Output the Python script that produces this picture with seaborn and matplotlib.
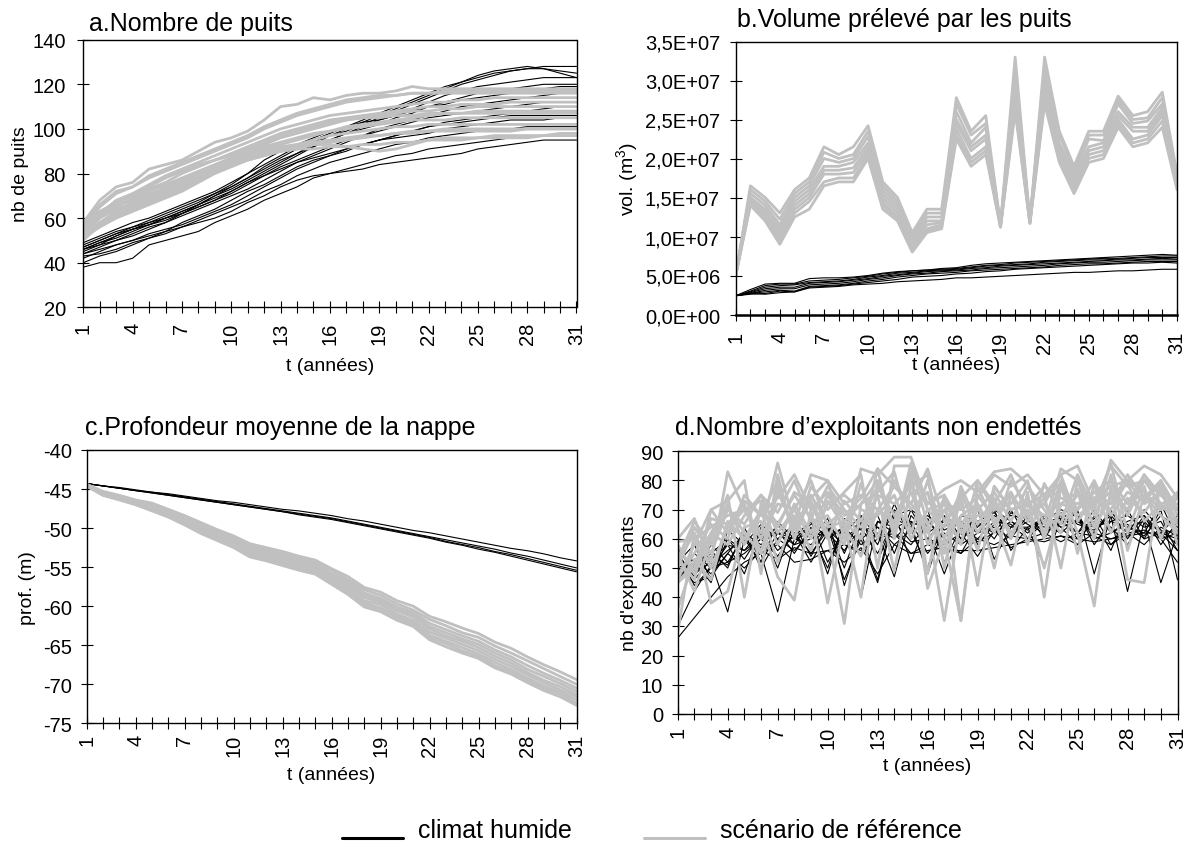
import numpy as np
import pandas as pd
import matplotlib
matplotlib.use("Agg")
import matplotlib.pyplot as plt
import seaborn as sns
from matplotlib.ticker import FuncFormatter
from matplotlib.lines import Line2D

# ---------------------------------------------------------------- data
T = list(range(1, 32))
TICK_LABELS = [str(t) if (t - 1) % 3 == 0 else "" for t in T]

# a. Nombre de puits
A_HUMIDE = [
    [47, 50, 53, 56, 58, 61, 64, 67, 71, 75, 80, 84, 88, 92, 95, 98, 101, 104, 107, 110, 113, 116, 119, 121, 123, 125, 126, 127, 128, 128, 128],
    [45, 48, 52, 55, 57, 60, 63, 66, 70, 74, 78, 83, 87, 91, 94, 97, 99, 102, 105, 108, 111, 114, 117, 120, 122, 124, 126, 127, 127, 126, 125],
    [46, 49, 51, 54, 57, 59, 62, 65, 68, 72, 76, 80, 84, 88, 92, 95, 98, 101, 104, 106, 109, 112, 115, 117, 119, 120, 121, 122, 123, 123, 123],
    [48, 51, 54, 56, 59, 62, 65, 68, 71, 74, 78, 82, 86, 89, 92, 95, 98, 100, 102, 105, 107, 110, 112, 114, 116, 117, 118, 119, 120, 120, 120],
    [44, 47, 50, 53, 56, 58, 61, 64, 67, 70, 73, 77, 81, 85, 88, 91, 94, 97, 100, 102, 104, 106, 108, 110, 111, 112, 113, 114, 115, 116, 117],
    [47, 50, 53, 55, 58, 60, 62, 65, 68, 71, 75, 79, 83, 86, 89, 92, 95, 97, 99, 101, 103, 105, 106, 107, 108, 109, 110, 111, 112, 112, 112],
    [42, 45, 48, 50, 53, 55, 57, 60, 63, 66, 70, 74, 78, 82, 85, 88, 90, 93, 95, 97, 99, 101, 102, 103, 104, 105, 106, 106, 106, 106, 106],
    [40, 43, 45, 48, 51, 53, 56, 59, 62, 65, 68, 72, 75, 79, 82, 85, 87, 89, 91, 93, 94, 96, 97, 98, 99, 100, 100, 101, 101, 101, 101],
    [38, 40, 40, 42, 48, 50, 52, 54, 58, 61, 64, 68, 71, 74, 78, 80, 82, 84, 86, 88, 89, 91, 92, 93, 94, 95, 96, 96, 97, 97, 97],
    [44, 46, 48, 50, 52, 54, 56, 58, 60, 63, 67, 70, 74, 77, 79, 80, 81, 82, 84, 85, 86, 87, 88, 89, 91, 92, 93, 94, 95, 95, 95],
    [46, 48, 50, 52, 55, 58, 62, 66, 70, 73, 77, 81, 85, 89, 93, 97, 100, 103, 106, 109, 112, 115, 118, 121, 124, 126, 127, 128, 127, 125, 123],
    [49, 52, 55, 58, 60, 63, 66, 69, 72, 76, 80, 86, 90, 93, 96, 99, 101, 103, 104, 106, 108, 110, 111, 113, 114, 115, 116, 117, 118, 119, 119],
    [43, 44, 46, 49, 51, 54, 58, 61, 64, 68, 72, 75, 79, 83, 86, 88, 91, 93, 95, 97, 99, 101, 103, 104, 105, 106, 107, 108, 109, 110, 110],
    [46, 49, 52, 55, 57, 60, 63, 66, 69, 72, 76, 79, 82, 85, 87, 89, 91, 93, 95, 96, 97, 98, 100, 101, 102, 103, 104, 104, 104, 105, 105],
]
A_REFERENCE = [
    [58, 68, 74, 76, 82, 84, 86, 90, 94, 96, 99, 104, 110, 111, 114, 113, 115, 116, 116, 117, 119, 118, 118, 118, 118, 118, 118, 118, 118, 118, 118],
    [55, 65, 71, 74, 78, 81, 84, 87, 90, 93, 96, 100, 103, 106, 108, 110, 112, 113, 114, 115, 116, 116, 117, 117, 117, 117, 117, 117, 117, 117, 117],
    [54, 62, 68, 71, 75, 79, 82, 85, 88, 91, 94, 97, 100, 102, 104, 106, 107, 108, 109, 110, 111, 112, 112, 113, 113, 114, 114, 114, 114, 114, 114],
    [56, 63, 67, 70, 74, 78, 81, 84, 86, 89, 92, 95, 98, 100, 102, 104, 105, 106, 107, 108, 109, 110, 110, 111, 111, 111, 112, 112, 112, 112, 112],
    [52, 60, 65, 69, 72, 75, 78, 81, 84, 87, 90, 93, 96, 98, 100, 102, 104, 105, 106, 107, 108, 108, 109, 109, 110, 110, 110, 110, 110, 110, 110],
    [53, 61, 66, 68, 71, 73, 76, 79, 82, 85, 88, 91, 93, 95, 97, 99, 101, 102, 103, 104, 105, 106, 107, 107, 108, 108, 108, 108, 108, 108, 108],
    [51, 58, 63, 66, 69, 72, 75, 78, 81, 84, 87, 89, 91, 93, 95, 97, 98, 99, 100, 101, 101, 102, 102, 102, 102, 102, 102, 102, 102, 102, 102],
    [55, 62, 66, 68, 70, 73, 76, 79, 82, 84, 86, 88, 90, 91, 93, 94, 95, 96, 97, 98, 99, 99, 100, 100, 100, 100, 100, 100, 100, 100, 100],
    [50, 57, 61, 64, 67, 70, 73, 77, 81, 84, 87, 89, 90, 91, 91, 92, 92, 93, 93, 94, 94, 95, 95, 95, 96, 96, 96, 96, 97, 97, 97],
    [52, 58, 62, 65, 68, 71, 74, 78, 82, 85, 88, 90, 92, 93, 93, 93, 92, 91, 90, 91, 93, 95, 96, 96, 96, 97, 97, 97, 97, 98, 98],
    [57, 66, 72, 74, 79, 82, 85, 88, 91, 94, 97, 101, 104, 107, 109, 111, 113, 114, 115, 115, 116, 116, 116, 116, 116, 116, 116, 116, 116, 116, 116],
    [53, 61, 67, 70, 73, 76, 80, 83, 86, 88, 91, 94, 97, 99, 101, 103, 104, 105, 105, 106, 106, 107, 107, 107, 107, 107, 107, 107, 107, 107, 107],
    [54, 60, 64, 67, 70, 74, 77, 80, 83, 86, 89, 92, 94, 96, 98, 99, 100, 101, 102, 103, 104, 104, 104, 105, 105, 105, 105, 105, 105, 105, 105],
    [51, 56, 60, 63, 66, 69, 72, 76, 80, 83, 86, 88, 90, 92, 94, 95, 96, 97, 97, 98, 98, 99, 99, 99, 99, 99, 99, 100, 100, 100, 100],
]

# b. Volume prélevé par les puits (millions de m3)
B_HUMIDE = [
    [2.4, 3.2, 3.9, 4.0, 4.0, 4.6, 4.7, 4.7, 4.8, 5.0, 5.3, 5.5, 5.6, 5.7, 5.9, 6.0, 6.3, 6.5, 6.6, 6.7, 6.8, 6.9, 7.0, 7.1, 7.2, 7.3, 7.4, 7.5, 7.6, 7.7, 7.6],
    [2.4, 3.0, 3.7, 3.9, 3.9, 4.3, 4.4, 4.5, 4.7, 4.9, 5.2, 5.4, 5.6, 5.7, 5.8, 5.9, 6.1, 6.3, 6.4, 6.6, 6.7, 6.8, 6.9, 7.0, 7.1, 7.2, 7.2, 7.3, 7.4, 7.5, 7.5],
    [2.4, 2.9, 3.5, 3.7, 3.8, 4.1, 4.2, 4.3, 4.5, 4.8, 5.0, 5.3, 5.4, 5.6, 5.7, 5.8, 6.0, 6.2, 6.3, 6.4, 6.5, 6.7, 6.8, 6.9, 7.0, 7.0, 7.1, 7.2, 7.3, 7.3, 7.3],
    [2.4, 2.8, 3.3, 3.5, 3.5, 4.0, 4.1, 4.2, 4.4, 4.6, 4.9, 5.1, 5.3, 5.5, 5.6, 5.7, 5.9, 6.0, 6.2, 6.3, 6.4, 6.5, 6.6, 6.7, 6.8, 6.9, 7.0, 7.0, 7.1, 7.2, 7.1],
    [2.4, 2.7, 3.1, 3.3, 3.3, 3.8, 3.9, 4.0, 4.2, 4.5, 4.7, 5.0, 5.2, 5.3, 5.5, 5.6, 5.7, 5.9, 6.0, 6.1, 6.2, 6.3, 6.5, 6.6, 6.7, 6.7, 6.8, 6.9, 7.0, 7.0, 7.0],
    [2.4, 2.7, 2.9, 3.1, 3.0, 3.6, 3.7, 3.8, 4.0, 4.3, 4.5, 4.8, 5.0, 5.2, 5.3, 5.4, 5.6, 5.7, 5.8, 5.9, 6.0, 6.1, 6.3, 6.4, 6.5, 6.5, 6.6, 6.7, 6.8, 6.8, 6.8],
    [2.4, 2.6, 2.7, 3.0, 2.9, 3.5, 3.6, 3.7, 3.9, 4.1, 4.3, 4.5, 4.8, 4.9, 5.0, 5.2, 5.3, 5.5, 5.6, 5.8, 5.9, 6.0, 6.1, 6.2, 6.3, 6.4, 6.5, 6.6, 6.6, 6.7, 6.6],
    [2.4, 2.7, 2.6, 2.8, 2.9, 3.4, 3.5, 3.6, 3.8, 3.9, 4.0, 4.2, 4.3, 4.4, 4.5, 4.7, 4.7, 4.8, 4.9, 5.0, 5.1, 5.2, 5.3, 5.4, 5.4, 5.5, 5.6, 5.6, 5.7, 5.8, 5.8],
]
B_REFERENCE = [
    [5, 16.5, 15.0, 13.0, 16.0, 17.5, 21.5, 20.5, 21.5, 24.2, 17.0, 15.0, 10.5, 13.5, 13.5, 27.8, 23.5, 25.5, 11.5, 33.0, 12.0, 33.0, 23.5, 19.0, 23.5, 23.5, 28.0, 25.5, 26.0, 28.5, 18.0],
    [5, 16.0, 14.5, 12.2, 15.5, 17.0, 20.8, 20.0, 20.5, 23.5, 16.5, 14.5, 10.0, 13.0, 13.0, 27.0, 23.0, 24.5, 11.5, 31.5, 11.9, 32.0, 23.0, 18.5, 23.0, 23.0, 27.5, 25.0, 25.2, 27.8, 17.8],
    [5, 15.5, 14.0, 11.5, 15.0, 16.5, 20.0, 19.5, 20.0, 22.8, 16.0, 14.0, 9.5, 12.5, 12.5, 26.0, 22.0, 24.0, 11.4, 30.0, 11.9, 31.0, 22.0, 18.0, 22.5, 22.3, 27.0, 24.5, 24.8, 27.0, 17.5],
    [5, 15.0, 13.5, 11.0, 14.5, 16.0, 19.0, 19.0, 19.5, 22.0, 15.5, 13.5, 9.2, 12.0, 12.0, 25.0, 21.5, 23.0, 11.4, 29.0, 11.8, 30.0, 21.5, 17.5, 21.5, 22.0, 26.0, 24.0, 24.0, 26.5, 17.2],
    [5, 14.8, 13.2, 10.5, 14.0, 15.5, 18.5, 18.5, 18.8, 21.5, 15.0, 13.0, 9.0, 11.5, 11.8, 24.5, 21.0, 22.5, 11.3, 28.0, 11.8, 29.0, 21.0, 17.0, 21.0, 21.5, 25.5, 23.5, 23.5, 26.0, 17.0],
    [5, 14.5, 12.8, 10.0, 13.5, 15.0, 18.0, 18.0, 18.2, 21.0, 14.5, 12.5, 8.7, 11.0, 11.5, 23.8, 20.0, 21.5, 11.3, 27.5, 11.7, 28.5, 20.5, 16.5, 20.5, 21.0, 25.0, 22.5, 23.0, 25.5, 16.8],
    [5, 14.2, 12.4, 9.5, 13.0, 14.5, 17.0, 17.5, 17.5, 20.5, 14.0, 12.2, 8.4, 10.8, 11.2, 23.0, 19.5, 21.0, 11.2, 26.5, 11.7, 27.5, 20.0, 16.0, 20.0, 20.5, 24.5, 22.0, 22.5, 24.8, 16.5],
    [5, 14.0, 12.0, 9.0, 12.5, 13.5, 16.5, 17.0, 17.0, 20.0, 13.5, 12.0, 8.0, 10.5, 11.0, 22.5, 19.0, 20.5, 11.2, 26.0, 11.7, 27.0, 19.5, 15.5, 19.5, 20.0, 24.0, 21.5, 22.0, 24.0, 16.0],
]

# c. Profondeur moyenne de la nappe (m)
C_HUMIDE = [
    [-44.3, -44.6, -44.8, -45.1, -45.4, -45.6, -45.9, -46.2, -46.5, -46.7, -47.0, -47.3, -47.6, -47.8, -48.1, -48.4, -48.8, -49.1, -49.5, -49.9, -50.3, -50.6, -51.0, -51.4, -51.8, -52.2, -52.6, -52.9, -53.3, -53.8, -54.2],
    [-44.3, -44.6, -44.9, -45.2, -45.4, -45.7, -46.0, -46.3, -46.6, -46.9, -47.2, -47.5, -47.8, -48.1, -48.4, -48.7, -49.1, -49.5, -49.9, -50.3, -50.7, -51.1, -51.5, -51.9, -52.3, -52.7, -53.2, -53.6, -54.1, -54.6, -55.1],
    [-44.3, -44.6, -44.9, -45.2, -45.5, -45.8, -46.1, -46.4, -46.7, -47.0, -47.3, -47.6, -47.9, -48.2, -48.5, -48.8, -49.2, -49.6, -50.0, -50.4, -50.8, -51.2, -51.7, -52.1, -52.5, -53.0, -53.4, -53.9, -54.4, -54.9, -55.4],
    [-44.3, -44.6, -44.9, -45.2, -45.5, -45.8, -46.1, -46.4, -46.7, -47.0, -47.3, -47.6, -47.9, -48.3, -48.6, -48.9, -49.3, -49.7, -50.1, -50.5, -50.9, -51.3, -51.8, -52.2, -52.7, -53.1, -53.6, -54.1, -54.6, -55.1, -55.6],
]
C_REFERENCE = [
    [-44.4, -45.3, -45.8, -46.4, -46.8, -47.6, -48.4, -49.3, -50.2, -51.0, -52.0, -52.5, -53.0, -53.6, -54.1, -55.2, -56.2, -57.6, -58.2, -59.3, -60.0, -61.3, -62.0, -62.8, -63.5, -64.6, -65.4, -66.5, -67.5, -68.4, -69.4],
    [-44.4, -45.4, -45.9, -46.5, -47.0, -47.7, -48.6, -49.5, -50.4, -51.2, -52.3, -52.7, -53.3, -53.8, -54.4, -55.4, -56.6, -57.9, -58.6, -59.7, -60.5, -61.7, -62.5, -63.4, -64.0, -65.1, -66.0, -67.0, -68.0, -69.0, -70.0],
    [-44.5, -45.4, -46.0, -46.6, -47.1, -47.9, -48.7, -49.7, -50.6, -51.4, -52.5, -53.0, -53.5, -54.1, -54.6, -55.8, -56.9, -58.3, -59.0, -60.1, -60.8, -62.2, -63.0, -63.8, -64.5, -65.6, -66.5, -67.6, -68.6, -69.5, -70.5],
    [-44.5, -45.5, -46.0, -46.7, -47.2, -48.0, -48.9, -49.8, -50.8, -51.6, -52.6, -53.2, -53.7, -54.3, -54.9, -56.0, -57.2, -58.6, -59.2, -60.4, -61.1, -62.6, -63.4, -64.2, -64.9, -66.0, -66.9, -68.1, -69.0, -69.9, -70.9],
    [-44.5, -45.5, -46.1, -46.7, -47.3, -48.1, -49.0, -50.0, -50.9, -51.8, -52.9, -53.4, -53.9, -54.5, -55.1, -56.3, -57.4, -58.9, -59.5, -60.6, -61.4, -62.9, -63.8, -64.5, -65.3, -66.4, -67.3, -68.5, -69.5, -70.3, -71.3],
    [-44.6, -45.6, -46.2, -46.8, -47.5, -48.3, -49.1, -50.2, -51.1, -52.0, -53.2, -53.7, -54.1, -54.8, -55.4, -56.5, -57.7, -59.3, -59.8, -61.0, -61.8, -63.3, -64.1, -64.9, -65.7, -66.8, -67.7, -68.8, -69.8, -70.7, -71.6],
    [-44.6, -45.7, -46.3, -46.9, -47.6, -48.4, -49.3, -50.4, -51.3, -52.2, -53.4, -53.9, -54.4, -55.0, -55.6, -56.8, -58.0, -59.6, -60.2, -61.3, -62.1, -63.7, -64.5, -65.3, -66.1, -67.2, -68.1, -69.2, -70.2, -71.0, -72.0],
    [-44.6, -45.8, -46.3, -47.0, -47.7, -48.5, -49.5, -50.5, -51.5, -52.4, -53.6, -54.1, -54.6, -55.2, -55.8, -57.0, -58.3, -59.8, -60.5, -61.5, -62.4, -64.0, -64.8, -65.7, -66.4, -67.6, -68.4, -69.5, -70.5, -71.3, -72.4],
    [-44.6, -45.8, -46.4, -47.0, -47.8, -48.6, -49.6, -50.7, -51.6, -52.5, -53.7, -54.2, -54.8, -55.4, -55.9, -57.2, -58.5, -60.1, -60.7, -61.8, -62.6, -64.3, -65.2, -66.0, -66.7, -67.9, -68.7, -69.8, -70.8, -71.6, -72.7],
]

# d. Nombre d'exploitants non endettés
D_HUMIDE = [
    [26, 33, 40, 47, 52, 55, 58, 52, 53, 56, 58, 56, 60, 62, 55, 58, 56, 56, 56, 57, 58, 59, 60, 61, 60, 59, 60, 61, 62, 62, 60],
    [57, 48, 52, 35, 60, 55, 35, 60, 65, 68, 44, 62, 46, 70, 65, 48, 65, 62, 68, 70, 56, 64, 51, 67, 70, 48, 68, 42, 66, 45, 62],
    [50, 45, 47, 55, 62, 50, 60, 56, 62, 50, 66, 60, 45, 68, 70, 66, 60, 55, 65, 62, 70, 60, 66, 70, 68, 60, 62, 65, 60, 70, 46],
    [53, 50, 55, 60, 53, 62, 54, 62, 55, 63, 58, 55, 66, 62, 58, 65, 70, 60, 66, 69, 62, 66, 65, 62, 67, 62, 70, 60, 68, 62, 68],
    [48, 52, 45, 63, 58, 65, 60, 65, 54, 65, 50, 66, 58, 72, 60, 70, 52, 64, 60, 66, 65, 60, 68, 64, 58, 68, 58, 64, 62, 72, 60],
    [55, 47, 58, 52, 61, 57, 65, 58, 66, 60, 64, 58, 62, 47, 68, 62, 66, 72, 58, 65, 68, 67, 64, 66, 62, 70, 62, 66, 68, 58, 66],
    [45, 55, 50, 58, 56, 60, 54, 62, 52, 62, 56, 64, 55, 66, 59, 60, 58, 62, 54, 63, 57, 60, 59, 61, 58, 62, 60, 62, 58, 64, 61],
    [52, 49, 54, 51, 62, 58, 63, 55, 64, 48, 67, 63, 64, 58, 63, 50, 68, 58, 70, 53, 64, 64, 66, 67, 60, 66, 56, 70, 60, 62, 56],
    [50, 53, 48, 55, 50, 56, 53, 57, 55, 56, 52, 57, 48, 58, 55, 56, 57, 55, 60, 58, 61, 60, 62, 59, 62, 61, 58, 62, 63, 60, 62],
    [56, 44, 50, 52, 55, 60, 62, 60, 62, 61, 64, 40, 66, 64, 66, 55, 62, 58, 62, 64, 60, 68, 62, 66, 66, 64, 66, 68, 64, 66, 56],
    [52, 58, 46, 60, 56, 63, 50, 66, 60, 67, 55, 68, 52, 67, 64, 68, 63, 66, 62, 68, 64, 69, 60, 69, 65, 63, 68, 62, 70, 63, 58],
    [47, 51, 56, 50, 64, 52, 66, 60, 58, 64, 60, 65, 68, 55, 70, 60, 67, 60, 64, 70, 66, 62, 67, 65, 69, 58, 66, 64, 61, 68, 64],
    [54, 46, 53, 58, 48, 64, 56, 61, 66, 52, 62, 68, 60, 69, 52, 67, 58, 68, 66, 60, 69, 65, 62, 68, 62, 67, 64, 58, 67, 62, 63],
    [30, 42, 51, 56, 60, 52, 62, 58, 60, 64, 46, 60, 64, 60, 66, 63, 48, 63, 59, 62, 66, 63, 68, 64, 66, 62, 69, 64, 66, 60, 52],
]
D_REFERENCE = [
    [60, 67, 52, 83, 70, 62, 86, 65, 82, 80, 60, 84, 82, 88, 88, 72, 77, 80, 76, 83, 84, 79, 65, 84, 80, 64, 87, 80, 85, 82, 74],
    [53, 46, 70, 73, 80, 48, 82, 60, 78, 70, 76, 82, 50, 85, 85, 65, 72, 70, 74, 82, 78, 82, 75, 82, 85, 72, 85, 78, 80, 72, 65],
    [28, 62, 38, 42, 64, 66, 47, 39, 70, 38, 65, 40, 80, 64, 82, 43, 60, 32, 75, 67, 51, 76, 40, 78, 62, 37, 78, 46, 45, 80, 58],
    [45, 50, 67, 65, 72, 55, 78, 63, 73, 62, 31, 72, 76, 83, 62, 80, 60, 72, 56, 78, 70, 72, 68, 72, 70, 76, 80, 68, 80, 75, 70],
    [55, 42, 60, 75, 40, 72, 58, 72, 62, 75, 66, 60, 84, 60, 83, 48, 75, 65, 72, 50, 75, 68, 72, 65, 82, 70, 86, 62, 78, 60, 75],
    [50, 64, 55, 70, 65, 75, 69, 80, 66, 68, 58, 79, 60, 80, 70, 76, 55, 78, 65, 74, 60, 74, 62, 80, 55, 79, 62, 74, 69, 77, 62],
    [48, 55, 65, 60, 75, 68, 80, 60, 75, 65, 70, 60, 75, 72, 78, 82, 50, 75, 44, 78, 70, 72, 75, 50, 80, 68, 80, 72, 82, 75, 70],
    [59, 60, 64, 68, 70, 73, 65, 75, 67, 78, 70, 64, 75, 49, 78, 72, 75, 32, 78, 65, 76, 58, 79, 68, 75, 74, 78, 80, 72, 76, 66],
    [53, 66, 58, 71, 62, 55, 76, 64, 74, 80, 72, 75, 70, 78, 72, 65, 32, 68, 72, 62, 80, 71, 78, 74, 72, 76, 72, 82, 74, 80, 70],
    [45, 52, 62, 58, 68, 75, 62, 70, 60, 72, 75, 70, 68, 75, 60, 70, 72, 64, 68, 70, 72, 80, 60, 78, 68, 72, 76, 70, 82, 70, 72],
    [46, 58, 70, 62, 73, 68, 74, 82, 70, 76, 68, 74, 84, 78, 72, 84, 66, 74, 80, 70, 76, 66, 74, 79, 70, 80, 68, 76, 73, 79, 68],
    [58, 48, 62, 72, 58, 70, 64, 76, 72, 60, 73, 66, 78, 68, 76, 62, 74, 62, 70, 76, 66, 78, 70, 62, 77, 64, 74, 79, 66, 72, 74],
    [36, 53, 46, 66, 60, 70, 52, 68, 56, 73, 64, 54, 70, 66, 80, 58, 70, 58, 80, 72, 62, 70, 50, 72, 76, 60, 82, 56, 75, 68, 62],
    [52, 62, 50, 64, 70, 60, 72, 70, 80, 64, 66, 72, 80, 62, 86, 70, 64, 76, 62, 72, 82, 68, 72, 82, 66, 74, 70, 80, 76, 70, 76],
]

LABEL_HUMIDE = "climat humide"
LABEL_REFERENCE = "scénario de référence"

# ---------------------------------------------------------------- style
sns.set_theme(style="white")
plt.rcParams["font.family"] = ["Liberation Sans", "DejaVu Sans"]
plt.rcParams["axes.unicode_minus"] = False

BLACK = "#000000"
GREY = "#C0C0C0"


def long_df(runs, factor=1.0):
    rows = []
    for i, run in enumerate(runs):
        for t, v in zip(T, run):
            rows.append({"t": t, "v": v * factor, "run": i})
    return pd.DataFrame(rows)


def draw(ax, humide, reference, factor=1.0):
    sns.lineplot(data=long_df(humide, factor), x="t", y="v", units="run",
                 estimator=None, color=BLACK, linewidth=0.8, ax=ax, legend=False)
    sns.lineplot(data=long_df(reference, factor), x="t", y="v", units="run",
                 estimator=None, color=GREY, linewidth=2.0, ax=ax, legend=False)


def style(ax, title, ylabel, ylim, yticks, xpad, ypad, title_dx, title_pad,
          xl_y, yl_x):
    ax.set_xlim(1, 31)
    ax.set_ylim(*ylim)
    ax.set_xticks(T)
    ax.set_xticklabels(TICK_LABELS, rotation=90)
    ax.set_yticks(yticks)
    ax.tick_params(direction="inout", length=8.6, width=0.8, color="black",
                   labelsize=14.5, labelcolor="black", bottom=True, left=True)
    ax.tick_params(axis="x", pad=xpad)
    ax.tick_params(axis="y", pad=ypad)
    for s in ax.spines.values():
        s.set_color("black")
        s.set_linewidth(1.0)
        s.set_visible(True)
    ax.set_xlabel("t (années)", fontsize=14, color="black")
    ax.xaxis.set_label_coords(0.5, xl_y)
    ax.set_ylabel(ylabel, fontsize=14, color="black")
    ax.yaxis.set_label_coords(yl_x, 0.5)
    t = ax.set_title(title, loc="left", fontsize=18, pad=title_pad, color="black")
    t.set_x(title_dx)
    ax.grid(False)


W, H = 1189, 845
fig = plt.figure(figsize=(W / 100, H / 100), dpi=100)
fig.patch.set_facecolor("white")


def px_axes(left, top, right, bottom):
    return fig.add_axes([left / W, 1 - bottom / H, (right - left) / W, (bottom - top) / H])


ax_a = px_axes(83.3, 40.7, 576.5, 308.3)
ax_b = px_axes(735.7, 42.5, 1177.0, 315.5)
ax_c = px_axes(86.7, 451.0, 576.5, 724.3)
ax_d = px_axes(677.7, 452.3, 1177.5, 715.0)

draw(ax_a, A_HUMIDE, A_REFERENCE)
draw(ax_b, B_HUMIDE, B_REFERENCE, factor=1e6)
draw(ax_c, C_HUMIDE, C_REFERENCE)
draw(ax_d, D_HUMIDE, D_REFERENCE)

style(ax_a, "a.Nombre de puits", "nb de puits", (20, 140), range(20, 141, 20),
      xpad=6.3, ypad=8.2, title_dx=0.0116, title_pad=7.0, xl_y=-0.186, yl_x=-0.110)
style(ax_b, "b.Volume prélevé par les puits", r"vol. (m$^\mathregular{3}$)",
      (0, 3.5e7), np.arange(0, 3.51e7, 5e6),
      xpad=7.2, ypad=7.0, title_dx=0.003, title_pad=11.4, xl_y=-0.151, yl_x=-0.2146)
ax_b.yaxis.set_major_formatter(FuncFormatter(lambda v, p: f"{v:.1E}".replace(".", ",")))
ax_b.spines["bottom"].set_linewidth(1.8)
style(ax_c, "c.Profondeur moyenne de la nappe", "prof. (m)", (-75, -40),
      range(-75, -39, 5),
      xpad=3.4, ypad=6.5, title_dx=-0.0035, title_pad=11.5, xl_y=-0.155, yl_x=-0.1035)
style(ax_d, "d.Nombre d\u2019exploitants non endettés", "nb d'exploitants", (0, 90),
      range(0, 91, 10),
      xpad=4.3, ypad=6.3, title_dx=-0.0054, title_pad=12.5, xl_y=-0.165, yl_x=-0.0794)

# ---------------------------------------------------------------- legend
for label, color, x0 in [(LABEL_HUMIDE, BLACK, 342), (LABEL_REFERENCE, GREY, 644)]:
    handle = Line2D([], [], color=color, linewidth=2.2)
    leg = fig.legend([handle], [label], loc="lower left",
                     bbox_to_anchor=(x0 / W, 1.5 / H), frameon=False,
                     fontsize=18, handlelength=2.44, handletextpad=0.6,
                     borderpad=0, borderaxespad=0)
    for txt in leg.get_texts():
        txt.set_color("black")
    for ln in leg.get_lines():
        xd = np.asarray(ln.get_xdata())
        ln.set_ydata(np.zeros_like(xd, dtype=float))

fig.savefig("out.png", dpi=100, facecolor="white")
